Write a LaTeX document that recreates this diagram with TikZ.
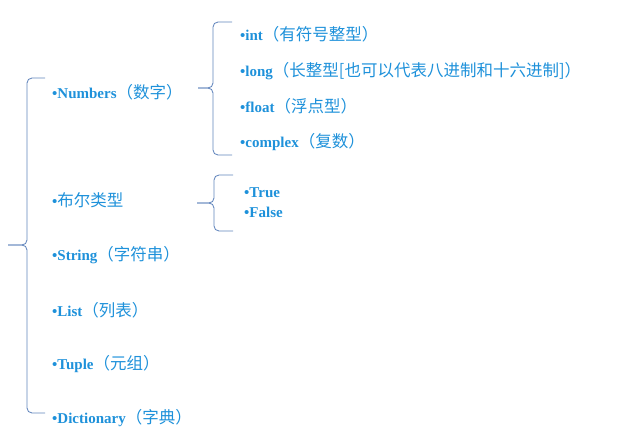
\documentclass[tikz,border=0pt]{standalone}
\usepackage{fontspec}
\setmainfont{Liberation Serif}
\newfontfamily\cjk{Noto Sans CJK SC}
\usetikzlibrary{positioning}

\definecolor{itemblue}{RGB}{30,145,218}
\definecolor{bracketblue}{RGB}{96,132,188}

\newcommand{\zh}[1]{{\cjk\mdseries\fontsize{16.5}{18}\selectfont #1}}

\tikzset{
    item/.style={anchor=west, inner sep=0pt, text=itemblue,
        font=\fontsize{15}{18}\selectfont\bfseries},
    bracket/.style={draw=bracketblue, line width=0.85pt, rounded corners=5pt},
}

\begin{document}
\begin{tikzpicture}[x=1pt, y=-1pt]
    \useasboundingbox (0,0) rectangle (628,433);

    % main types
    \node[item] (numbers) at (52,92)  {•Numbers\zh{（数字）}};
    \node[item] (bool)    at (52,200) {•\zh{布尔类型}};
    \node[item] (string)  at (52,255) {•String\zh{（字符串）}};
    \node[item] (list)    at (52,310) {•List\zh{（列表）}};
    \node[item] (tuple)   at (52,364) {•Tuple\zh{（元组）}};
    \node[item] (dict)    at (52,418) {•Dictionary\zh{（字典）}};

    % numbers
    \node[item] (int)     at (240,34)  {•int\zh{（有符号整型）}};
    \node[item] (long)    at (240,71)  {•long\zh{（长整型[也可以代表八进制和十六进制]）}};
    \node[item] (float)   at (240,106) {•float\zh{（浮点型）}};
    \node[item] (complex) at (240,142) {•complex\zh{（复数）}};

    % bool
    \node[item] (true)    at (244,193) {•True};
    \node[item] (false)   at (244,212) {•False};

    % left bracket
    \coordinate (main_top) at (45,78);
    \coordinate (main_bot) at (45,413);
    \coordinate (main_tip) at (8,245);
    \draw[bracket]
        (main_top) --
        (27,78) --
        (27,245) --
        (main_tip);
    \draw[bracket]
        (main_bot) --
        (27,413) --
        (27,245) --
        (main_tip);

    % numbers bracket
    \coordinate (num_top) at (232,22);
    \coordinate (num_bot) at (232,155);
    \coordinate (num_tip) at (198,88);
    \draw[bracket]
        (num_top) --
        (213,22) --
        (213,88) --
        (num_tip);
    \draw[bracket]
        (num_bot) --
        (213,155) --
        (213,88) --
        (num_tip);

    % bool bracket
    \coordinate (bool_top) at (233,175);
    \coordinate (bool_bot) at (233,231);
    \coordinate (bool_tip) at (197,203);
    \draw[bracket]
        (bool_top) --
        (214,175) --
        (214,203) --
        (bool_tip);
    \draw[bracket]
        (bool_bot) --
        (214,231) --
        (214,203) --
        (bool_tip);

\end{tikzpicture}
\end{document}
